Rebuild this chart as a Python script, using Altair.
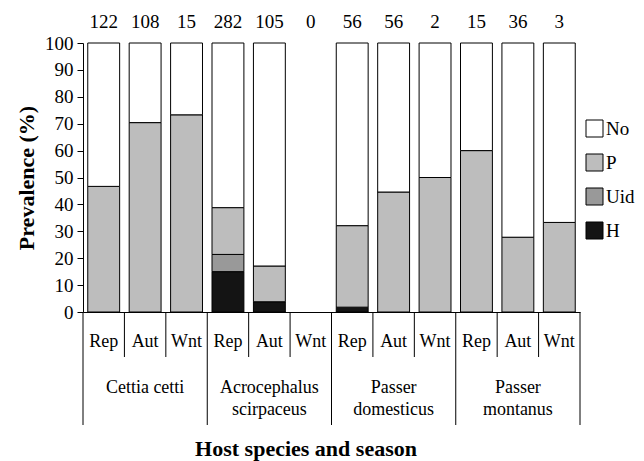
import altair as alt
import pandas as pd

species = ["Cettia cetti", "Acrocephalus\nscirpaceus", "Passer\ndomesticus", "Passer\nmontanus"]
seasons = ["Rep", "Aut", "Wnt"]
sample_sizes = [122, 108, 15, 282, 105, 0, 56, 56, 2, 15, 36, 3]
h_vals = [0, 0, 0, 15.0, 3.8, 0, 1.8, 0, 0, 0, 0, 0]
uid_vals = [0, 0, 0, 6.4, 0, 0, 0, 0, 0, 0, 0, 0]
p_vals = [46.7, 70.4, 73.3, 17.4, 13.3, 0, 30.3, 44.6, 50.0, 60.0, 27.8, 33.3]
statuses = ["No", "P", "Uid", "H"]
status_colors = ["#ffffff", "#bdbdbd", "#999999", "#141414"]

FONT = "Liberation Serif, Times New Roman, Times, serif"
keys = [f"{i:02d}" for i in range(12)]

rows = []
info = []
for i, k in enumerate(keys):
    sp = species[i // 3]
    se = seasons[i % 3]
    n = sample_sizes[i]
    no = 100 - h_vals[i] - uid_vals[i] - p_vals[i] if n > 0 else 0
    vals = {"H": h_vals[i], "Uid": uid_vals[i], "P": p_vals[i], "No": no}
    for o, st in enumerate(["H", "Uid", "P", "No"]):
        if vals[st] > 0:
            rows.append({"key": k, "status": st, "value": vals[st], "ord": o})
    info.append({"key": k, "season": se, "species": sp, "n": str(n)})

df = pd.DataFrame(rows)
info_df = pd.DataFrame(info)
species_df = info_df.iloc[1::3].reset_index(drop=True)
season_sep = info_df[[i % 3 != 0 for i in range(12)]]
species_sep = info_df[[i % 3 == 0 for i in range(12)]]
last_sep = info_df.iloc[[11]]

H = 269
xscale = alt.Scale(domain=keys, paddingInner=0, paddingOuter=0)
xenc = alt.X("key:N", scale=xscale,
             axis=alt.Axis(labels=False, ticks=False, title=None, domainColor="black", domainWidth=1))

bars = alt.Chart(df).mark_bar(width=alt.RelativeBandSize(0.77), stroke="black", strokeWidth=1).encode(
    x=xenc,
    y=alt.Y("value:Q", stack="zero",
            scale=alt.Scale(domain=[0, 100], nice=False),
            axis=alt.Axis(values=list(range(0, 101, 10)), tickSize=6, labelPadding=4,
                          labelFont=FONT, labelFontSize=19, labelColor="black",
                          domainColor="black", tickColor="black", grid=False,
                          title="Prevalence (%)", titleFont=FONT, titleFontSize=22,
                          titleFontWeight="bold", titleColor="black", titlePadding=6)),
    color=alt.Color("status:N", scale=alt.Scale(domain=statuses, range=status_colors),
                    legend=alt.Legend(title=None, orient="none", legendX=502, legendY=76,
                                      symbolType="square", symbolSize=289,
                                      symbolStrokeColor="black", symbolStrokeWidth=1,
                                      symbolOpacity=1, labelFont=FONT, labelFontSize=19,
                                      labelColor="black", rowPadding=13, labelOffset=2)),
    order=alt.Order("ord:Q", sort="ascending"),
)

sep_season = alt.Chart(season_sep).mark_rule(color="black", strokeWidth=1).encode(
    x=alt.X("key:N", scale=xscale, bandPosition=0),
    y=alt.value(H), y2=alt.value(H + 45))
sep_species = alt.Chart(species_sep).mark_rule(color="black", strokeWidth=1).encode(
    x=alt.X("key:N", scale=xscale, bandPosition=0),
    y=alt.value(H), y2=alt.value(H + 113))
sep_last = alt.Chart(last_sep).mark_rule(color="black", strokeWidth=1).encode(
    x=alt.X("key:N", scale=xscale, bandPosition=1),
    y=alt.value(H), y2=alt.value(H + 113))

season_txt = alt.Chart(info_df).mark_text(font=FONT, fontSize=18, color="black", baseline="middle").encode(
    x=alt.X("key:N", scale=xscale), y=alt.value(H + 30), text="season:N")
n_txt = alt.Chart(info_df).mark_text(font=FONT, fontSize=19, color="black", baseline="middle").encode(
    x=alt.X("key:N", scale=xscale), y=alt.value(-21), text="n:N")
species_txt = alt.Chart(species_df).mark_text(font=FONT, fontSize=18, color="black", baseline="top",
                                              lineBreak="\n", lineHeight=22).encode(
    x=alt.X("key:N", scale=xscale), y=alt.value(H + 67), text="species:N")
xtitle = alt.Chart(pd.DataFrame({"t": ["Host species and season"]})).mark_text(
    font=FONT, fontSize=22, fontWeight="bold", color="black", baseline="middle").encode(
    x=alt.value(223), y=alt.value(H + 137), text="t:N")

chart = alt.layer(bars, sep_season, sep_species, sep_last, season_txt, n_txt, species_txt, xtitle).properties(
    width=497, height=H,
    padding={"left": 75, "top": 35, "right": 56, "bottom": 150},
    autosize=alt.AutoSizeParams(type="none"),
    background="white",
).configure_view(stroke=None)

chart.save("out.html", embed_options={"renderer": "svg", "actions": False})
